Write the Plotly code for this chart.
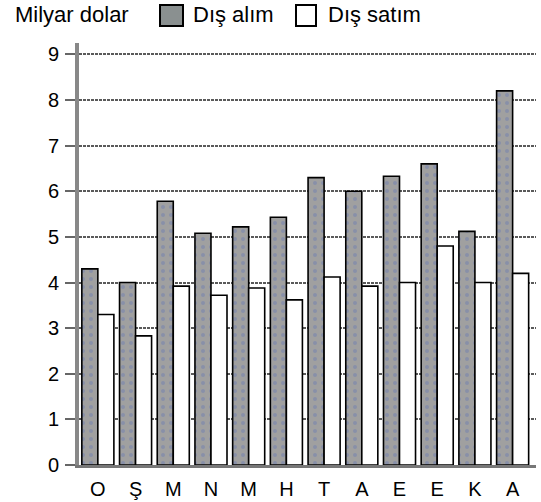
import plotly.graph_objects as go

months = ["O", "Ş", "M", "N", "M", "H", "T", "A", "E", "E", "K", "A"]
dis_alim = [4.3, 4.0, 5.78, 5.08, 5.22, 5.43, 6.3, 6.0, 6.33, 6.6, 5.12, 8.2]
dis_satim = [3.3, 2.83, 3.92, 3.72, 3.88, 3.62, 4.12, 3.92, 4.0, 4.8, 4.0, 4.2]
y_ticks = list(range(0, 10))

x_idx = list(range(len(months)))
FONT = "Liberation Sans, Arial, sans-serif"

fig = go.Figure()
fig.add_trace(go.Bar(
    x=x_idx, y=dis_alim, name="Dış alım",
    marker=dict(color="#9c9c9c",
                line=dict(color="#000", width=1.6),
                pattern=dict(shape=".", fgcolor="#7080b0", bgcolor="#a0a0a0",
                             size=8, solidity=0.2)),
    showlegend=False,
))
fig.add_trace(go.Bar(
    x=x_idx, y=dis_satim, name="Dış satım",
    marker=dict(color="#ffffff", line=dict(color="#000", width=1.6)),
    showlegend=False,
))

W, H = 541, 502
L, T = 79, 43
R = W - 536
B = H - 465
pw = W - L - R
ph = H - T - B

def px(x):
    return (x - L) / pw

def py(y):
    return (H - B - y) / ph

# legend swatches (manual legend)
shapes = [
    dict(type="rect", xref="paper", yref="paper",
         x0=px(160), x1=px(183), y0=py(26), y1=py(5),
         fillcolor="#8a9090", line=dict(color="#000", width=2)),
    dict(type="rect", xref="paper", yref="paper",
         x0=px(296), x1=px(316), y0=py(26), y1=py(5),
         fillcolor="#ffffff", line=dict(color="#000", width=2)),
]
annotations = [
    dict(text="Milyar dolar", xref="paper", yref="paper", x=px(13), y=py(15),
         xanchor="left", yanchor="middle", showarrow=False,
         font=dict(family=FONT, size=22, color="#000")),
    dict(text="Dış alım", xref="paper", yref="paper", x=px(191), y=py(15),
         xanchor="left", yanchor="middle", showarrow=False,
         font=dict(family=FONT, size=22, color="#000")),
    dict(text="Dış satım", xref="paper", yref="paper", x=px(326), y=py(15),
         xanchor="left", yanchor="middle", showarrow=False,
         font=dict(family=FONT, size=22, color="#000")),
]

fig.update_layout(
    width=W, height=H,
    margin=dict(l=L, r=R, t=T, b=B, autoexpand=False),
    paper_bgcolor="white", plot_bgcolor="white",
    barmode="group", bargap=0.15, bargroupgap=0,
    shapes=shapes, annotations=annotations,
    font=dict(family=FONT, size=20, color="#000"),
)
fig.update_xaxes(
    tickmode="array", tickvals=x_idx, ticktext=months,
    range=[-0.5, 11.62], showgrid=False,
    showline=True, linecolor="#777", linewidth=3,
    ticks="", ticklabelstandoff=4, automargin=False,
    tickfont=dict(family=FONT, size=20, color="#000"),
    zeroline=False,
)
fig.update_yaxes(
    range=[0, 9.25], tickmode="array", tickvals=y_ticks,
    showgrid=True, gridcolor="#5a5a5a", gridwidth=2, griddash="3px,1px",
    showline=True, linecolor="#888", linewidth=4,
    ticks="outside", ticklen=10, tickwidth=2, tickcolor="#666",
    ticklabelstandoff=2, automargin=False,
    tickfont=dict(family=FONT, size=20, color="#000"),
    zeroline=False,
)

fig.write_html(
    "out.html",
    config={"displayModeBar": False},
    post_script="document.body.style.margin='0px';document.body.style.overflow='hidden';",
)
